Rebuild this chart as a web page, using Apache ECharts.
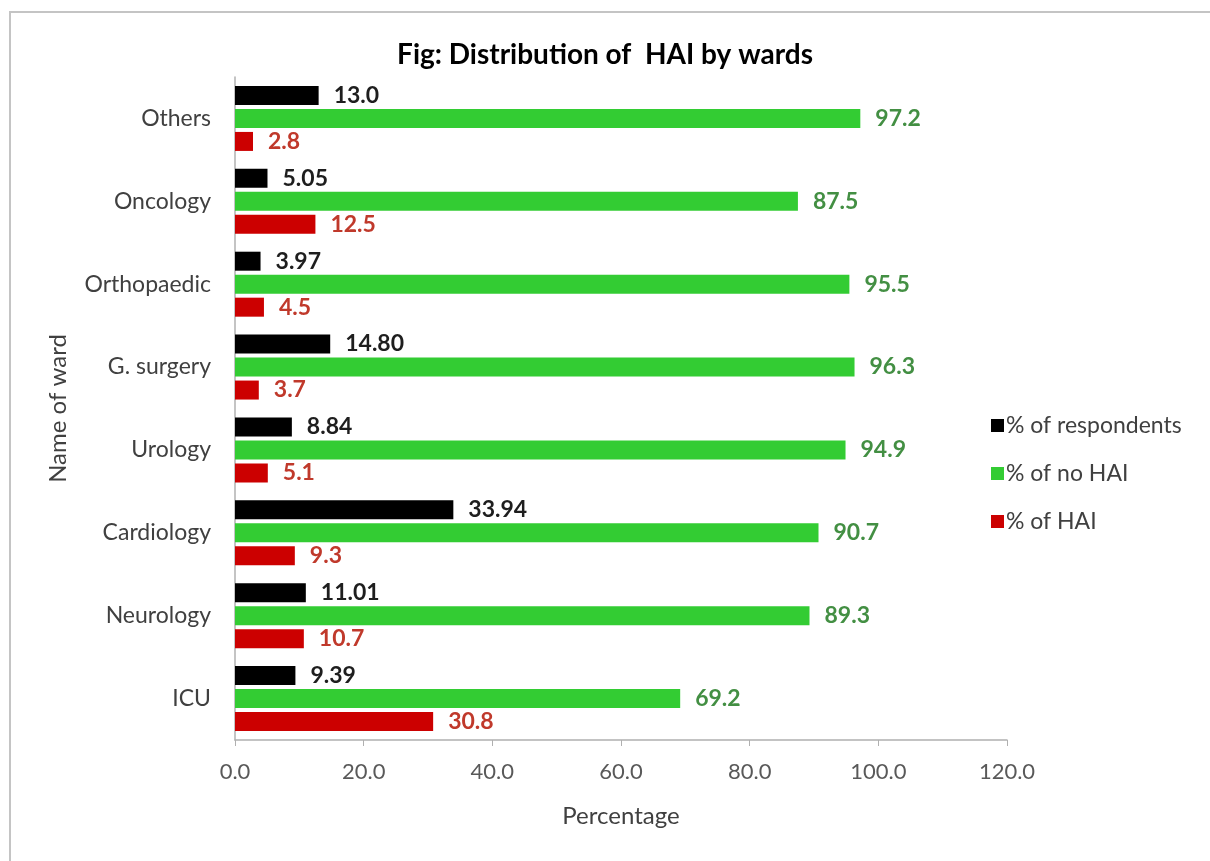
<!DOCTYPE html>
<html>
<head>
<meta charset="utf-8">
<script src="https://cdn.jsdelivr.net/npm/echarts@6/dist/echarts.min.js"></script>
<style>
  html, body { margin: 0; padding: 0; background: #fff; }
  #chart { width: 1210px; height: 861px; }
</style>
</head>
<body>
<div id="chart"></div>
<script>
const wards = ['ICU', 'Neurology', 'Cardiology', 'Urology', 'G. surgery', 'Orthopaedic', 'Oncology', 'Others'];
const respondents = [9.39, 11.01, 33.94, 8.84, 14.80, 3.97, 5.05, 13.0];
const respondentLabels = ['9.39', '11.01', '33.94', '8.84', '14.80', '3.97', '5.05', '13.0'];
const noHai = [69.2, 89.3, 90.7, 94.9, 96.3, 95.5, 87.5, 97.2];
const hai = [30.8, 10.7, 9.3, 5.1, 3.7, 4.5, 12.5, 2.8];
const xTicks = [0, 20, 40, 60, 80, 100, 120];

const chart = echarts.init(document.getElementById('chart'));
const font = 'Lato, "Open Sans", sans-serif';

function labelOf(color, fmt) {
  return {
    show: true,
    position: 'right',
    distance: 15,
    fontFamily: font,
    fontSize: 23,
    fontWeight: 'bold',
    color: color,
    formatter: fmt
  };
}

const option = {
  animation: false,
  textStyle: { fontFamily: font },
  // frame round the chart: left and top edges only, as in the picture
  graphic: [{
    type: 'polyline',
    shape: { points: [[10, 900], [10, 12], [1300, 12]] },
    style: { fill: 'none', stroke: '#c4c4c4', lineWidth: 2 },
    silent: true
  }],
  title: {
    text: 'Fig: Distribution of  HAI by wards',
    left: 'center',
    top: 36,
    textStyle: { fontFamily: font, fontSize: 28, fontWeight: 'bold', color: '#000' }
  },
  legend: {
    orient: 'vertical',
    left: 986,
    top: 409,
    itemWidth: 13,
    itemHeight: 13,
    itemGap: 25,
    icon: 'rect',
    data: ['% of respondents', '% of no HAI', '% of HAI'],
    textStyle: { fontFamily: font, fontSize: 23, color: '#404040', padding: [0, 0, 0, -3] }
  },
  grid: { left: 235, top: 77, width: 772, height: 663 },
  xAxis: {
    type: 'value',
    min: xTicks[0],
    max: xTicks[xTicks.length - 1],
    interval: xTicks[1] - xTicks[0],
    name: 'Percentage',
    nameLocation: 'middle',
    nameGap: 64,
    nameTextStyle: { fontFamily: font, fontSize: 24, color: '#404040' },
    axisLine: { show: true, lineStyle: { color: '#b0b0b0', width: 1.5 } },
    axisTick: { show: true, length: 6, lineStyle: { color: '#b0b0b0' } },
    splitLine: { show: false },
    axisLabel: {
      fontFamily: font, fontSize: 22, color: '#595959', margin: 21,
      formatter: v => v.toFixed(1)
    }
  },
  yAxis: {
    type: 'category',
    data: wards,
    name: 'Name of ward',
    nameLocation: 'middle',
    nameGap: 165,
    nameRotate: 90,
    nameTextStyle: { fontFamily: font, fontSize: 24, color: '#404040' },
    axisLine: { show: true, lineStyle: { color: '#b0b0b0', width: 1.5 } },
    axisTick: { show: false },
    axisLabel: { fontFamily: font, fontSize: 23, color: '#404040', margin: 24 }
  },
  series: [
    {
      name: '% of respondents',
      type: 'bar',
      data: respondents,
      barWidth: 19,
      barGap: '21%',
      itemStyle: { color: '#000000' },
      label: labelOf('#1e1e1e', p => respondentLabels[p.dataIndex])
    },
    {
      name: '% of no HAI',
      type: 'bar',
      data: noHai,
      barWidth: 19,
      barGap: '21%',
      itemStyle: { color: '#33cc33' },
      label: labelOf('#438f43', p => p.value.toFixed(1))
    },
    {
      name: '% of HAI',
      type: 'bar',
      data: hai,
      barWidth: 19,
      barGap: '21%',
      itemStyle: { color: '#cc0000' },
      label: labelOf('#c0392b', p => p.value.toFixed(1))
    }
  ]
};
chart.setOption(option);
</script>
</body>
</html>
